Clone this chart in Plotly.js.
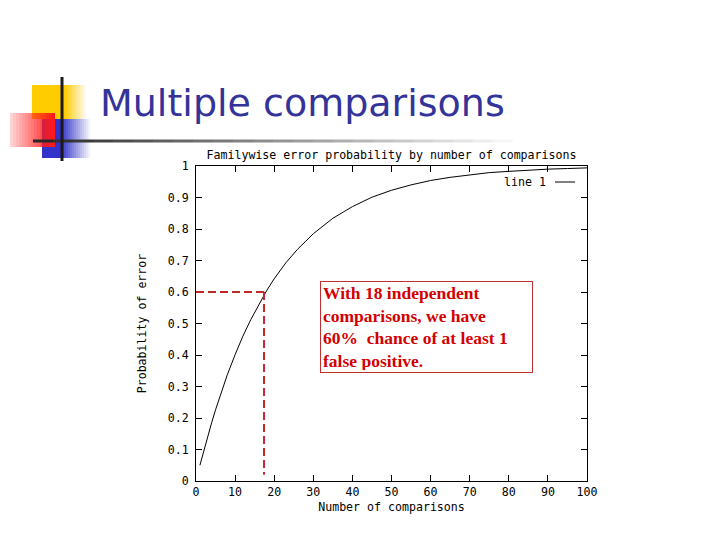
<!DOCTYPE html>
<html>
<head>
<meta charset="utf-8">
<script src="https://cdn.plot.ly/plotly-3.0.1.min.js"></script>
<style>html,body{margin:0;padding:0;background:#fff;}#chart{width:720px;height:540px;}</style>
</head>
<body>
<div id="chart"></div>
<script>
// ---- data ----
const comparisons = [1,2,3,4,5,6,8,10,12,14,16,18,20,23,26,30,35,40,45,50,55,60,65,70,75,80,85,90,95,100];
const errorProb   = [0.05,0.098,0.143,0.185,0.226,0.265,0.337,0.401,0.46,0.512,0.56,0.603,0.642,0.693,0.736,0.785,0.834,0.871,0.901,0.923,0.94,0.954,0.964,0.972,0.979,0.983,0.987,0.99,0.992,0.994];
const markN = [17.4];
const markP = [0.6];
const slideTitle = "Multiple comparisons";
const chartTitle = "Familywise error probability by number of comparisons";
const xTitle = "Number of comparisons";
const yTitle = "Probability of error";
const legendLabel = "line 1";
const noteText = "With 18 independent<br>comparisons, we have<br>60%  chance of at least 1<br>false positive.";

// ---- layout helpers (plot frame in pixels) ----
const L = 196, R = 587, T = 166, B = 481;
const px = x => (x - L) / (R - L);
const py = y => (B - y) / (B - T);
const mono = "DejaVu Sans Mono, monospace";

const shapes = [];
function rect(x0, y0, x1, y1, color, op) {
  shapes.push({type:'rect', xref:'paper', yref:'paper', x0:px(x0), x1:px(x1), y0:py(y1), y1:py(y0),
    fillcolor:color, opacity:op, line:{width:0}, layer:'above'});
}
// yellow square with fade right
rect(32, 85, 66, 119, '#FFCC00', 1);
for (let i = 0; i < 10; i++) rect(66 + i*2, 85, 68 + i*2, 119, '#FFCC00', 1 - (i+1)/11);
// blue square with fade right
rect(42, 119, 62, 158, '#3333CC', 1);
for (let i = 0; i < 14; i++) rect(62 + i*2, 119, 64 + i*2, 158, '#3333CC', 1 - (i+1)/15);
// red square with gradient (pale left -> red right)
for (let i = 0; i < 15; i++) rect(10 + i*3, 113, 13 + i*3, 147, '#FF1A1A', 0.2 + 0.8*(i/14));
// horizontal rule with fade
for (let i = 0; i < 25; i++) {
  const x0 = 33 + i*20, x1 = x0 + 20;
  const g = Math.round(40 + 215*(i/24));
  shapes.push({type:'line', xref:'paper', yref:'paper', x0:px(x0), x1:px(x1), y0:py(141), y1:py(141),
    line:{color:`rgb(${g},${g},${g})`, width:3}, layer:'above'});
}
// vertical rule
shapes.push({type:'line', xref:'paper', yref:'paper', x0:px(62), x1:px(62), y0:py(77), y1:py(161),
  line:{color:'#1a1a1a', width:3}, layer:'above'});
// legend key
shapes.push({type:'line', xref:'paper', yref:'paper', x0:px(555), x1:px(575), y0:py(182), y1:py(182),
  line:{color:'#000', width:1}});
// dashed marker lines
shapes.push({type:'line', xref:'x', yref:'y', x0:0, x1:markN[0], y0:markP[0], y1:markP[0],
  line:{color:'#C0282A', width:2, dash:'8px,4px'}});
shapes.push({type:'line', xref:'x', yref:'y', x0:markN[0], x1:markN[0], y0:markP[0], y1:0.02,
  line:{color:'#C0282A', width:2, dash:'8px,4px'}});

const annotations = [
  {text:slideTitle, xref:'paper', yref:'paper', x:px(98), y:py(103), xanchor:'left', yanchor:'middle',
   showarrow:false, font:{family:'DejaVu Sans, sans-serif', size:38, color:'#333399'}},
  {text:legendLabel, xref:'paper', yref:'paper', x:px(548), y:py(182), xanchor:'right', yanchor:'middle',
   showarrow:false, font:{family:mono, size:11.6, color:'#000'}},
  {text:'<b>' + noteText + '</b>', xref:'paper', yref:'paper', x:px(426.5), y:py(327), xanchor:'center', yanchor:'middle',
   showarrow:false, align:'left', valign:'middle', width:207, height:86, borderpad:2, bordercolor:'#C03030', borderwidth:1,
   bgcolor:'#fff', font:{family:'Liberation Serif, Times New Roman, serif', size:17.5, color:'#D40000'}}
];

const data = [{x:comparisons, y:errorProb, type:'scatter', mode:'lines', line:{color:'#000', width:1}, showlegend:false, hoverinfo:'skip'}];

const axisCommon = {showgrid:false, zeroline:false, showline:true, linecolor:'#000', linewidth:1, mirror:'ticks',
  ticks:'inside', ticklen:6, tickcolor:'#000', tickfont:{family:mono, size:11.6, color:'#000'}};

const layout = {
  width:720, height:540, paper_bgcolor:'#fff', plot_bgcolor:'#fff',
  margin:{l:L, r:720-R, t:T, b:540-B, pad:0},
  title:{text:chartTitle, x:(L+R)/2/720, xanchor:'center', y:1-155/540, yanchor:'middle', yref:'container',
    font:{family:mono, size:11.6, color:'#000'}},
  xaxis:Object.assign({}, axisCommon, {range:[0,100], dtick:10, tick0:0,
    title:{text:xTitle, standoff:4, font:{family:mono, size:11.6, color:'#000'}}}),
  yaxis:Object.assign({}, axisCommon, {range:[0,1], dtick:0.1, tick0:0, ticklabelstandoff:4,
    title:{text:yTitle, standoff:18, font:{family:mono, size:11.6, color:'#000'}}}),
  shapes:shapes, annotations:annotations, showlegend:false
};

Plotly.newPlot('chart', data, layout, {staticPlot:true, displayModeBar:false});
</script>
</body>
</html>
